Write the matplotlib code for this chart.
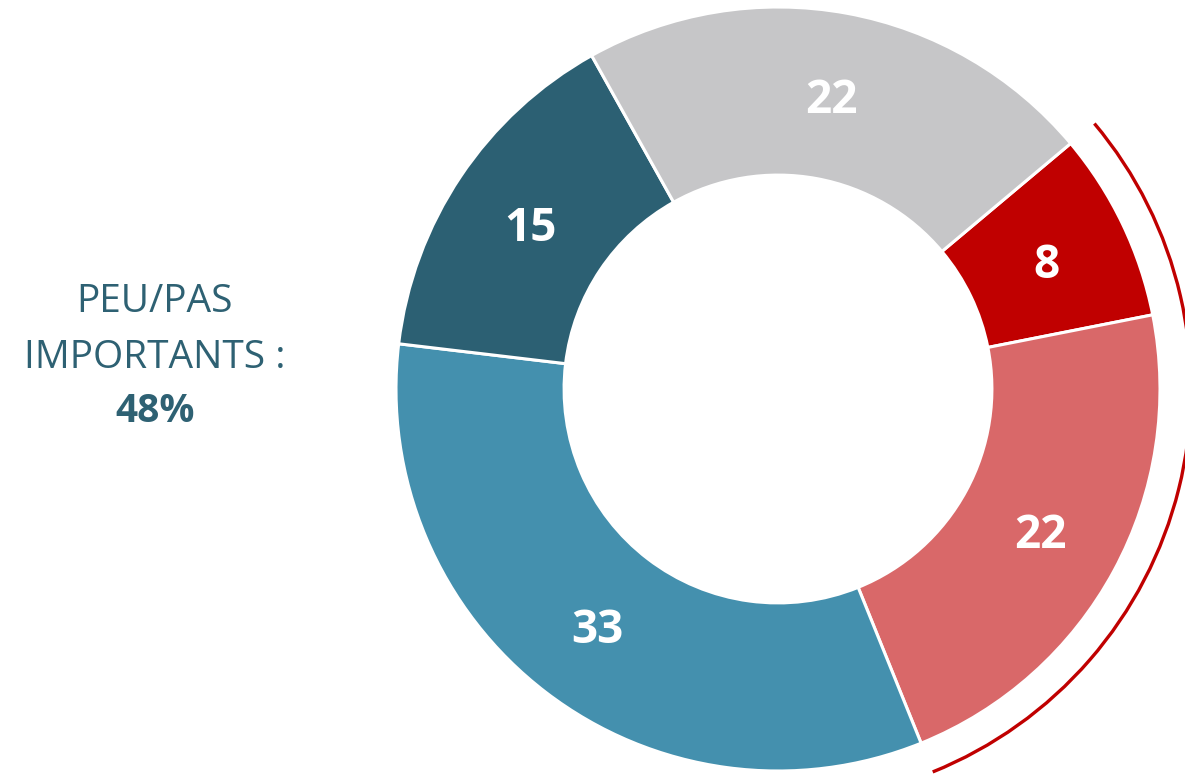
import numpy as np
import matplotlib.pyplot as plt
from matplotlib.patches import Arc

plt.rcParams["font.family"] = ["Open Sans", "DejaVu Sans"]

# slices, clockwise from the small red one
values = [8, 22, 33, 15, 22]
colors = ["#C00000", "#D96869", "#4490AE", "#2C6073", "#C6C6C8"]
side_lines = ["PEU/PAS", "IMPORTANTS :"]
side_value = "48%"

W, H = 1185, 774
fig = plt.figure(figsize=(W / 100, H / 100), dpi=100)
ax = fig.add_axes([0, 0, 1, 1])

cx, cy, R = 778, 385, 382
wedges, texts, autotexts = ax.pie(
    values,
    colors=colors,
    startangle=40,
    counterclock=False,
    center=(cx, cy),
    radius=R,
    autopct=lambda p: f"{round(p)}",
    pctdistance=0.78,
    wedgeprops=dict(width=R * 0.44, edgecolor="white", linewidth=2.2),
    textprops=dict(color="white", fontsize=33, fontweight="bold"),
    frame=True,
)
# nudge labels down a little (Open Sans sits high when centred)
for t in autotexts:
    x, y = t.get_position()
    t.set_position((x, y - 5))

ax.set_xlim(0, W)
ax.set_ylim(0, H)
ax.set_aspect("equal")
ax.axis("off")

# bracket arc around the "important" slices (8 + 22)
t1 = 40
t2 = 40 - (values[0] + values[1]) * 3.6
ax.add_patch(Arc((cx, cy), 2 * 413, 2 * 413, theta1=t2, theta2=t1,
                 color="#C00000", linewidth=2.4))

ax.text(155, H - 302, side_lines[0], ha="center", va="center",
        fontsize=28, color="#2E6173")
ax.text(155, H - 358, side_lines[1], ha="center", va="center",
        fontsize=28, color="#2E6173")
ax.text(155, H - 412, side_value, ha="center", va="center",
        fontsize=28, fontweight="bold", color="#2E6173")

fig.savefig("out.png", dpi=100)
